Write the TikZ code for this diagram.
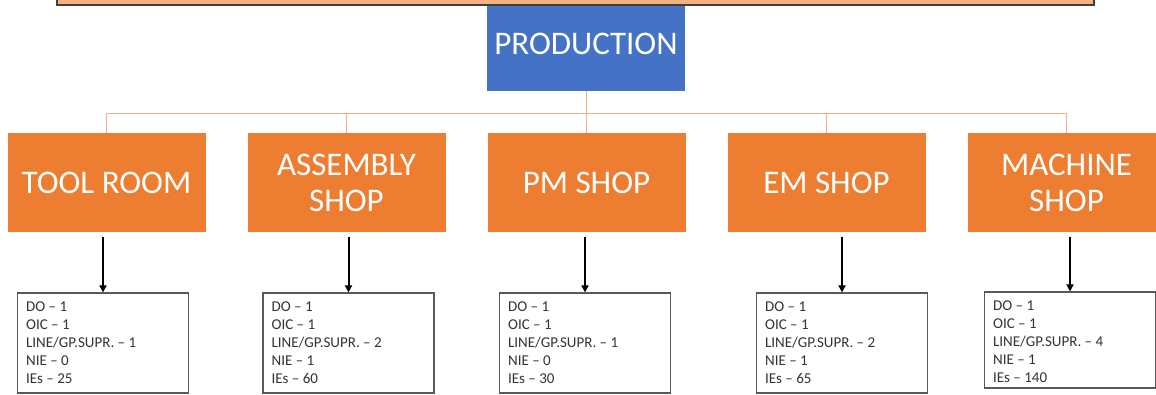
\documentclass[tikz,border=0pt]{standalone}
\usepackage{fontspec}
\setmainfont{Carlito}
\usetikzlibrary{arrows.meta}
\definecolor{prodblue}{HTML}{4472C4}
\definecolor{shoporange}{HTML}{ED7D31}
\definecolor{paleorange}{HTML}{F4B183}
\definecolor{edgegrey}{HTML}{595959}
\definecolor{textgrey}{HTML}{333333}
\tikzset{
  headbox/.style={rectangle, fill=prodblue, text=white, minimum width=198pt,
    minimum height=90.5pt, inner sep=0pt, font=\fontsize{33}{36}\selectfont},
  shopbox/.style={rectangle, fill=shoporange, text=white, minimum width=198pt,
    minimum height=99pt, inner sep=0pt, align=center, font=\fontsize{33}{36}\selectfont},
  staffbox/.style={rectangle, draw=edgegrey, line width=1.2pt, fill=white,
    minimum width=171pt, inner sep=0pt},
  stafftext/.style={anchor=north west, inner sep=0pt, align=left, text=textgrey,
    font=\fontsize{15}{18}\selectfont},
  treeline/.style={draw=paleorange, line width=1pt},
  downarrow/.style={draw=black, line width=2pt, shorten <=5pt,
    -{Triangle[length=7pt,width=7pt]}},
  topbar/.style={rectangle, fill=paleorange, draw=black!75, line width=1.4pt,
    minimum width=1037pt, minimum height=10pt, inner sep=0pt}
}
\begin{document}
\begin{tikzpicture}[x=1pt,y=-1pt]
\useasboundingbox[fill=white] (0,0) rectangle (1156,394);

% department head
\node[headbox] (prod) at (586,45.25) {\raisebox{3pt}{PRODUCTION}};
\node[topbar] (bar) at (575.5,0) {};

% shops
\node[shopbox] (s1) at (106.5,182.5) {TOOL ROOM};
\node[shopbox] (s2) at (346.5,182.5) {ASSEMBLY\\SHOP};
\node[shopbox] (s3) at (586.5,182.5) {PM SHOP};
\node[shopbox] (s4) at (826.5,182.5) {EM SHOP};
\node[shopbox] (s5) at (1066.5,182.5) {MACHINE\\SHOP};

% tree connectors
\coordinate (hub) at (586,113);
\draw[treeline] (prod.south) -- (hub);
\foreach \s in {s1,s2,s3,s4,s5} {
  \draw[treeline] (hub) -| (\s.north);
}

% staff boxes
\node[staffbox, minimum height=100pt] (d1) at (103,343) {};
\node[staffbox, minimum height=100pt] (d2) at (348.5,343) {};
\node[staffbox, minimum height=100pt] (d3) at (585,343) {};
\node[staffbox, minimum height=100pt] (d4) at (842,343) {};
\node[staffbox, minimum height=96pt] (d5) at (1070,340) {};

\node[stafftext] (t1) at ([xshift=9pt,yshift=-9.5pt]d1.north west)
  {DO – 1\\OIC – 1\\LINE/GP.SUPR. – 1\\NIE – 0\\IEs – 25};
\node[stafftext] (t2) at ([xshift=9pt,yshift=-9.5pt]d2.north west)
  {DO – 1\\OIC – 1\\LINE/GP.SUPR. – 2\\NIE – 1\\IEs – 60};
\node[stafftext] (t3) at ([xshift=9pt,yshift=-9.5pt]d3.north west)
  {DO – 1\\OIC – 1\\LINE/GP.SUPR. – 1\\NIE – 0\\IEs – 30};
\node[stafftext] (t4) at ([xshift=9pt,yshift=-9.5pt]d4.north west)
  {DO – 1\\OIC – 1\\LINE/GP.SUPR. – 2\\NIE – 1\\IEs – 65};
\node[stafftext] (t5) at ([xshift=9pt,yshift=-9pt]d5.north west)
  {DO – 1\\OIC – 1\\LINE/GP.SUPR. – 4\\NIE – 1\\IEs – 140};

% arrows from shops to staff boxes
\foreach \i in {1,...,5} {
  \draw[downarrow] (s\i.south -| d\i.north) -- (d\i.north);
}
\end{tikzpicture}
\end{document}
